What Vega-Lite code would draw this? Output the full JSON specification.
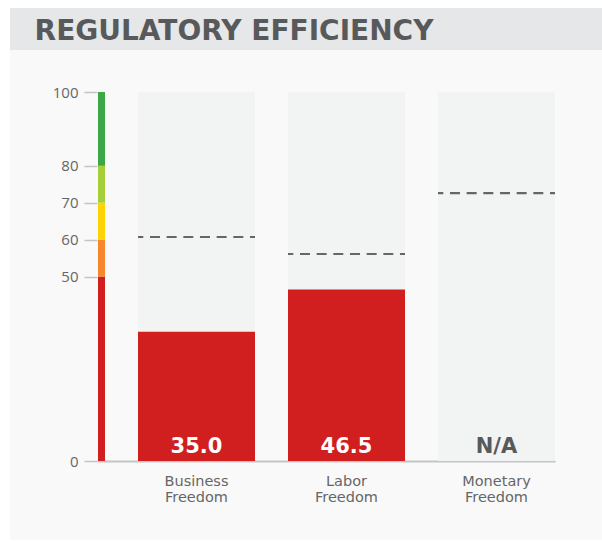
{
  "$schema": "https://vega.github.io/schema/vega-lite/v6.json",
  "padding": {"left": 10, "top": 8, "right": 0, "bottom": 0},
  "background": "white",
  "config": {"view": {"stroke": null}},
  "spacing": 0,
  "datasets": {
    "heading": [{"t": "REGULATORY EFFICIENCY"}],
    "scores": [
      {"cat": "Business Freedom", "score": 35.0, "avg": 60.7, "label": "35.0"},
      {"cat": "Labor Freedom", "score": 46.5, "avg": 56.1, "label": "46.5"},
      {"cat": "Monetary Freedom", "score": null, "avg": 72.6, "label": "N/A"}
    ],
    "bands": [
      {"lo": 0, "hi": 50, "band": "Repressed"},
      {"lo": 50, "hi": 60, "band": "Mostly Unfree"},
      {"lo": 60, "hi": 70, "band": "Moderately Free"},
      {"lo": 70, "hi": 80, "band": "Mostly Free"},
      {"lo": 80, "hi": 100, "band": "Free"}
    ]
  },
  "vconcat": [
    {
      "width": 592,
      "height": 42,
      "data": {"name": "heading"},
      "layer": [
        {
          "mark": {"type": "rect", "color": "#e6e7e8"},
          "encoding": {}
        },
        {
          "mark": {
            "type": "text",
            "align": "center",
            "baseline": "alphabetic",
            "dx": -72,
            "dy": 11,
            "font": "DejaVu Sans",
            "fontSize": 28,
            "fontWeight": "bold",
            "color": "#58595b"
          },
          "encoding": {"text": {"field": "t"}}
        }
      ]
    },
    {
      "width": 592,
      "height": 490,
      "view": {"fill": "#f9f9f9", "stroke": null},
      "layer": [
        {
          "data": {"name": "scores"},
          "encoding": {
            "x": {
              "field": "cat",
              "type": "nominal",
              "sort": null,
              "scale": {
                "domain": ["Business Freedom", "Labor Freedom", "Monetary Freedom"],
                "range": [87, 545],
                "paddingInner": 0.22,
                "paddingOuter": 0.13667,
                "align": 1
              },
              "axis": {
                "title": null,
                "orient": "bottom",
                "offset": -79,
                "ticks": false,
                "domainColor": "#c4c4c4",
                "domainWidth": 2,
                "labelAngle": 0,
                "labelPadding": 13,
                "labelBaseline": "top",
                "labelFont": "DejaVu Sans",
                "labelFontSize": 14.5,
                "labelColor": "#666666",
                "labelLineHeight": 16,
                "labelExpr": "split(datum.label, ' ')"
              }
            }
          },
          "layer": [
            {
              "mark": {"type": "bar", "color": "#f2f3f3"},
              "encoding": {
                "y": {"datum": 100, "type": "quantitative", "scale": {"domain": [0, 100], "range": [411, 42], "nice": false}},
                "y2": {"datum": 0}
              }
            },
            {
              "mark": {"type": "bar", "color": "#d01f1e"},
              "encoding": {
                "y": {"field": "score", "type": "quantitative"},
                "y2": {"datum": 0}
              }
            },
            {
              "mark": {"type": "rule", "color": "#666669", "strokeWidth": 2.2, "strokeDash": [10, 6.67], "strokeDashOffset": 4.7},
              "encoding": {
                "x": {"field": "cat", "type": "nominal", "bandPosition": 0},
                "x2": {"field": "cat", "bandPosition": 1},
                "y": {"field": "avg", "type": "quantitative"}
              }
            },
            {
              "mark": {"type": "text", "align": "center", "baseline": "alphabetic", "dy": -8.5, "font": "DejaVu Sans", "fontSize": 21, "fontWeight": "bold"},
              "encoding": {
                "y": {"datum": 0, "type": "quantitative"},
                "text": {"field": "label"},
                "color": {"condition": {"test": "datum.score == null", "value": "#58595b"}, "value": "#ffffff"}
              }
            }
          ]
        },
        {
          "data": {"name": "bands"},
          "mark": {"type": "bar"},
          "encoding": {
            "x": {"datum": "scale", "type": "nominal", "scale": {"range": [88, 95], "paddingInner": 0, "paddingOuter": 0}, "axis": null},
            "y": {
              "field": "lo",
              "type": "quantitative",
              "scale": {"domain": [0, 100], "range": [411, 42], "nice": false},
              "axis": {
                "title": null,
                "values": [0, 50, 60, 70, 80, 100],
                "offset": -87,
                "domain": false,
                "grid": false,
                "tickSize": 13,
                "tickColor": "#c4c4c4",
                "tickWidth": 1.5,
                "labelPadding": 6,
                "labelFont": "Open Sans",
                "labelFontSize": 15,
                "labelColor": "#666666"
              }
            },
            "y2": {"field": "hi"},
            "color": {
              "field": "band",
              "type": "nominal",
              "legend": null,
              "scale": {
                "domain": ["Repressed", "Mostly Unfree", "Moderately Free", "Mostly Free", "Free"],
                "range": ["#d01f1e", "#f6872d", "#fdd307", "#a6ce39", "#3da647"]
              }
            }
          }
        }
      ],
      "resolve": {"scale": {"x": "independent"}}
    }
  ]
}
